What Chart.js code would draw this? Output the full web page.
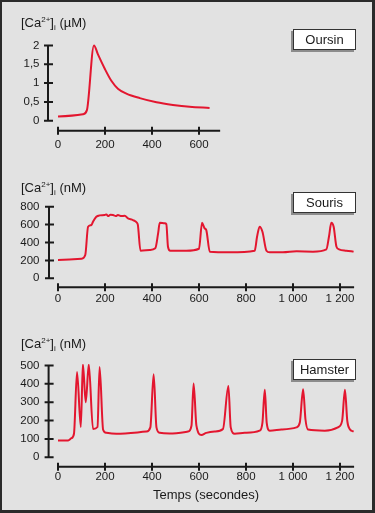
<!DOCTYPE html>
<html>
<head>
<meta charset="utf-8">
<script src="https://cdn.jsdelivr.net/npm/chart.js@4"></script>
<style>
html, body { margin: 0; padding: 0; }
#fig {
    position: relative;
    width: 375px;
    height: 513px;
    background: #e2e2e2;
    overflow: hidden;
    font-family: 'Liberation Sans', Arial, sans-serif;
    color: #1a1a1a;
}
#frame {
    position: absolute;
    left: 0; top: 0;
    width: 375px; height: 513px;
    box-sizing: border-box;
    border: 2px solid #2b2b2b;
    border-right-width: 3px;
    border-bottom-width: 3px;
    pointer-events: none;
    z-index: 5;
}
canvas { position: absolute; left: 0; }
.ylab {
    position: absolute;
    left: 21px;
    font-size: 13px;
    line-height: 13px;
    white-space: nowrap;
    z-index: 3;
}
.ylab sup, .ylab sub { font-size: 8px; position: relative; vertical-align: baseline; }
.ylab sup { top: -5px; }
.ylab sub { top: 3px; }
.tag {
    position: absolute;
    left: 293px;
    width: 61px;
    height: 19px;
    background: #fff;
    border: 1px solid #333;
    box-shadow: -2px 2px 0 #8c8c8c;
    font-size: 13px;
    line-height: 19px;
    text-align: center;
    z-index: 3;
}
</style>
</head>
<body>
<div id="fig">
    <div class="ylab" style="top:16px">[Ca<sup>2+</sup>]<sub>i</sub> (µM)</div>
    <div class="ylab" style="top:181px">[Ca<sup>2+</sup>]<sub>i</sub> (nM)</div>
    <div class="ylab" style="top:337px">[Ca<sup>2+</sup>]<sub>i</sub> (nM)</div>
    <div class="tag" style="top:29px">Oursin</div>
    <div class="tag" style="top:192px">Souris</div>
    <div class="tag" style="top:359px">Hamster</div>
    <canvas id="oursinChart" width="375" height="140" style="top:20px"></canvas>
    <canvas id="sourisChart" width="375" height="135" style="top:175px"></canvas>
    <canvas id="hamsterChart" width="375" height="170" style="top:340px"></canvas>
    <div id="frame"></div>
</div>
<script>
// Oursin (sea urchin), [Ca2+]i in µM
const oursinTime = [0, 106, 123, 153, 170, 199, 227, 255, 291, 348, 419, 489, 560, 645];
const oursinCa = [0.11, 0.17, 0.28, 2.0, 1.76, 1.38, 1.06, 0.85, 0.72, 0.60, 0.49, 0.42, 0.37, 0.34];

// Souris (mouse), [Ca2+]i in nM
const sourisTime = [0, 100, 116, 128, 142, 149, 163, 177, 199, 206,
    213, 223, 234, 246, 255, 270, 284, 298, 319, 336,
    340, 351, 390, 414, 426, 433, 454, 461, 468, 478,
    546, 600, 613, 624, 631, 646, 731, 837, 847, 858,
    870, 887, 901, 957, 1015, 1085, 1142, 1153, 1163, 1173,
    1185, 1196, 1227, 1258];
const sourisCa = [204, 218, 260, 576, 595, 632, 688, 703, 707, 714,
    695, 710, 708, 695, 706, 695, 699, 669, 651, 620,
    595, 308, 316, 335, 502, 620, 614, 606, 353, 308,
    308, 330, 620, 558, 539, 297, 290, 308, 464, 576,
    520, 308, 290, 290, 301, 298, 324, 464, 620, 576,
    353, 324, 308, 298];

// Hamster, [Ca2+]i in nM
const hamsterTime = [0, 43, 57, 68, 81, 97, 106, 118, 131, 149,
    168, 177, 192, 206, 248, 376, 393, 407, 419, 433,
    475, 553, 568, 577, 589, 610, 631, 667, 702, 725,
    735, 752, 794, 858, 870, 880, 888, 901, 951, 1015,
    1029, 1043, 1053, 1064, 1135, 1191, 1209, 1221, 1231, 1241,
    1258];
const hamsterCa = [92, 92, 104, 128, 464, 165, 502, 300, 502, 154,
    165, 491, 150, 133, 128, 140, 163, 452, 163, 133,
    130, 140, 172, 402, 172, 122, 133, 140, 154, 388,
    163, 128, 133, 145, 189, 367, 189, 145, 151, 163,
    189, 370, 207, 151, 145, 163, 198, 367, 198, 154,
    140];

const PX_PER_SEC = 0.235;
const AXIS_LEFT = 58;
const RED = '#e3162f';
const INK = '#1a1a1a';
const FONT = "'Liberation Sans', Arial, sans-serif";

function frNum(v) {
    const parts = String(v).split('.');
    const whole = parts[0].replace(/\B(?=(\d{3})+(?!\d))/g, ' ');
    return parts[1] ? whole + ',' + parts[1] : whole;
}

// axes are detached from the plot: y axis sits left of t=0, x axis below y=0
const detachedAxes = {
    id: 'detachedAxes',
    afterDraw(chart, args, opts) {
        const { ctx, scales: { x, y } } = chart;
        const yAxisX = x.getPixelForValue(0) - opts.gap;
        const yTop = y.getPixelForValue(y.max);
        const yZero = y.getPixelForValue(0);
        const xAxisY = yZero + opts.gap;
        ctx.save();
        ctx.strokeStyle = INK;
        ctx.lineWidth = 2;
        ctx.beginPath();
        ctx.moveTo(yAxisX, yTop - 1);
        ctx.lineTo(yAxisX, yZero + 1);
        y.ticks.forEach(t => {
            const p = y.getPixelForValue(t.value);
            ctx.moveTo(yAxisX - 4, p);
            ctx.lineTo(yAxisX + 5, p);
        });
        ctx.moveTo(x.getPixelForValue(0), xAxisY);
        ctx.lineTo(x.right, xAxisY);
        x.ticks.forEach(t => {
            const p = x.getPixelForValue(t.value);
            ctx.moveTo(p, xAxisY - 4);
            ctx.lineTo(p, xAxisY + 4);
        });
        ctx.stroke();
        ctx.restore();
    }
};

function makeChart(canvasId, times, values, p) {
    const canvas = document.getElementById(canvasId);
    const top = parseFloat(canvas.style.top);
    const areaRight = AXIS_LEFT + p.xMax * PX_PER_SEC;
    return new Chart(canvas, {
        type: 'line',
        data: {
            datasets: [{
                data: times.map((t, i) => ({ x: t, y: values[i] })),
                borderColor: RED,
                borderWidth: 2,
                pointRadius: 0,
                cubicInterpolationMode: 'monotone',
                clip: false
            }]
        },
        options: {
            responsive: false,
            devicePixelRatio: 1,
            animation: false,
            layout: {
                padding: {
                    left: 0,
                    top: p.areaTop - top,
                    right: 375 - areaRight,
                    bottom: canvas.height - (p.areaBottom - top) - p.xScaleH
                }
            },
            plugins: {
                legend: { display: false },
                tooltip: { enabled: false },
                detachedAxes: { gap: p.gap }
            },
            scales: {
                x: {
                    type: 'linear',
                    min: 0,
                    max: p.xMax,
                    grid: { display: false, drawTicks: false },
                    border: { display: false },
                    afterFit: s => { s.height = p.xScaleH; },
                    ticks: {
                        stepSize: 200,
                        includeBounds: false,
                        autoSkip: false,
                        maxRotation: 0,
                        padding: p.xLabelPad,
                        color: INK,
                        font: { family: FONT, size: 11.5 },
                        callback: v => frNum(v)
                    },
                    title: {
                        display: !!p.xTitle,
                        text: p.xTitle || '',
                        color: INK,
                        font: { family: FONT, size: 13 },
                        padding: { top: 0, bottom: 0 }
                    }
                },
                y: {
                    min: 0,
                    max: p.yMax,
                    grid: { display: false, drawTicks: false },
                    border: { display: false },
                    afterFit: s => { s.width = AXIS_LEFT; },
                    ticks: {
                        stepSize: p.yStep,
                        padding: 18.5,
                        color: INK,
                        font: { family: FONT, size: 11.5 },
                        callback: v => frNum(v)
                    }
                }
            }
        },
        plugins: [detachedAxes]
    });
}

document.addEventListener('DOMContentLoaded', () => {
    makeChart('oursinChart', oursinTime, oursinCa, {
        areaTop: 42.3, areaBottom: 120.7, xMax: 690, yMax: 2, yStep: 0.5,
        gap: 10, xLabelPad: 17.7, xScaleH: 30
    });
    makeChart('sourisChart', sourisTime, sourisCa, {
        areaTop: 206.7, areaBottom: 278.3, xMax: 1260, yMax: 800, yStep: 200,
        gap: 9, xLabelPad: 13.6, xScaleH: 30
    });
    makeChart('hamsterChart', hamsterTime, hamsterCa, {
        areaTop: 363.3, areaBottom: 457.3, xMax: 1260, yMax: 500, yStep: 100,
        gap: 9.4, xLabelPad: 13.1, xScaleH: 46.2, xTitle: 'Temps (secondes)'
    });
});
</script>
</body>
</html>
